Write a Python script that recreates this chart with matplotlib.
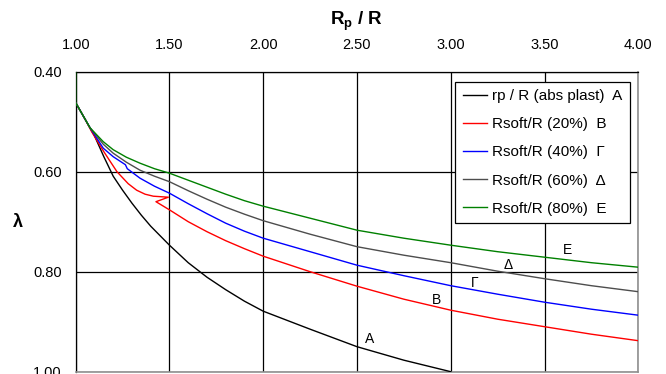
import matplotlib
matplotlib.use('Agg')
import matplotlib.pyplot as plt

plt.rcParams['font.family'] = ['Liberation Sans', 'DejaVu Sans']
plt.rcParams['mathtext.fontset'] = 'custom'
plt.rcParams['mathtext.rm'] = 'Liberation Sans'
plt.rcParams['mathtext.bf'] = 'Liberation Sans:bold'


'''
#   lambda against Rp/R for the different plastic zone definitions
'''
# rp / R, absolute plasticity (A)
xA = [1.00, 1.05, 1.10, 1.15, 1.20, 1.25, 1.30, 1.35, 1.40, 1.50, 1.60, 1.70, 1.80, 1.90, 2.00,
      2.25, 2.50, 2.75, 3.00]
yA = [0.462, 0.495, 0.528, 0.570, 0.609, 0.637, 0.663, 0.687, 0.709, 0.747, 0.782, 0.811, 0.836, 0.859, 0.879,
      0.915, 0.950, 0.977, 1.000]

# Rsoft/R 20% (B), with the fold near 1.45
xB = [1.00, 1.05, 1.085, 1.15, 1.22, 1.28, 1.325, 1.37, 1.414, 1.494, 1.428, 1.503, 1.60, 1.70, 1.80, 1.90, 2.00,
      2.25, 2.50, 2.75, 3.00, 3.25, 3.50, 3.75, 4.00]
yB = [0.462, 0.495, 0.520, 0.560, 0.600, 0.624, 0.637, 0.645, 0.649, 0.651, 0.660, 0.677, 0.700, 0.720, 0.738, 0.754, 0.769,
      0.800, 0.829, 0.855, 0.877, 0.895, 0.910, 0.925, 0.938]

# Rsoft/R 40% (Gamma)
xG = [1.00, 1.05, 1.076, 1.147, 1.20, 1.265, 1.275, 1.343, 1.42, 1.50, 1.60, 1.70, 1.80, 1.90, 2.00,
      2.25, 2.50, 2.75, 3.00, 3.25, 3.50, 3.75, 4.00]
yG = [0.462, 0.495, 0.512, 0.553, 0.570, 0.586, 0.594, 0.613, 0.629, 0.643, 0.664, 0.684, 0.703, 0.719, 0.733,
      0.760, 0.787, 0.808, 0.828, 0.845, 0.861, 0.875, 0.887]

# Rsoft/R 60% (Delta)
xD = [1.00, 1.076, 1.147, 1.20, 1.27, 1.343, 1.42, 1.50, 1.60, 1.70, 1.80, 1.90, 2.00,
      2.25, 2.50, 2.75, 3.00, 3.25, 3.50, 3.75, 4.00]
yD = [0.462, 0.512, 0.545, 0.563, 0.581, 0.597, 0.609, 0.620, 0.638, 0.655, 0.671, 0.685, 0.698,
      0.725, 0.750, 0.767, 0.782, 0.799, 0.814, 0.828, 0.840]

# Rsoft/R 80% (E)
xE = [1.00, 1.00, 1.076, 1.147, 1.20, 1.27, 1.343, 1.42, 1.50, 1.60, 1.70, 1.80, 1.90, 2.00,
      2.25, 2.50, 2.75, 3.00, 3.25, 3.50, 3.75, 4.00]
yE = [0.400, 0.462, 0.512, 0.540, 0.556, 0.571, 0.583, 0.594, 0.603, 0.617, 0.631, 0.645, 0.658, 0.669,
      0.693, 0.717, 0.733, 0.747, 0.760, 0.771, 0.782, 0.791]

xticks = [1.00, 1.50, 2.00, 2.50, 3.00, 3.50, 4.00]
yticks = [0.40, 0.60, 0.80, 1.00]

labels = ['rp / R (abs plast)  A', 'Rsoft/R (20%)  B', 'Rsoft/R (40%)  \u0393',
          'Rsoft/R (60%)  \u0394', 'Rsoft/R (80%)  E']
tags = ['A', 'B', '\u0393', '\u0394', 'E']
tagX = [2.566, 2.925, 3.13, 3.307, 3.62]
tagY = [0.935, 0.857, 0.823, 0.787, 0.756]


def show_lambda():

    fig = plt.figure(figsize=(6.66, 3.74), dpi=100)
    ax = fig.add_axes([75.7/666, 1-371.7/374, (638.3-75.7)/666, (371.7-71.7)/374])

    lw = 1.0
    ax.plot(xA, yA, color='black', linewidth=lw, label=labels[0], zorder=3)
    ax.plot(xB, yB, color='#ff0000', linewidth=lw, label=labels[1], zorder=3)
    ax.plot(xG, yG, color='#0000ff', linewidth=lw, label=labels[2], zorder=3)
    ax.plot(xD, yD, color='#4d4d4d', linewidth=lw, label=labels[3], zorder=3)
    ax.plot(xE, yE, color='#008000', linewidth=lw, label=labels[4], zorder=3)

    for t, x, y in zip(tags, tagX, tagY):
        ax.text(x, y, t, fontsize=10, ha='center', va='center', zorder=4)

    ax.set_xlim(1.0, 4.0)
    ax.set_ylim(1.0, 0.4)
    ax.set_xticks(xticks)
    ax.set_yticks(yticks)
    ax.set_xticklabels(['%.2f' % v for v in xticks])
    ax.set_yticklabels(['%.2f' % v for v in yticks])
    ax.xaxis.tick_top()
    ax.tick_params(axis='x', length=0, pad=14.5, labelsize=10.5)
    ax.tick_params(axis='y', length=0, pad=10, labelsize=10.5)
    ax.grid(True, color='black', linewidth=0.9, zorder=1)
    ax.set_axisbelow(True)

    for s in ['top', 'left']:
        ax.spines[s].set_color('black')
        ax.spines[s].set_linewidth(0.9)
    for s in ['right', 'bottom']:
        ax.spines[s].set_color('#909090')
        ax.spines[s].set_linewidth(1.2)

    fig.text(357/666, 1-21.5/374, r'$\mathbf{R_p}$ / R', fontsize=13.5, fontweight='bold',
             ha='center', va='center')
    fig.text(18/666, 1-222/374, '\u03bb', fontsize=13, fontweight='bold',
             ha='center', va='center')

    leg = ax.legend(loc='upper left', bbox_to_anchor=(455/666, 1-81.7/374),
                    bbox_transform=fig.transFigure, fontsize=11, frameon=True,
                    fancybox=False, framealpha=1, edgecolor='black', borderaxespad=0,
                    handlelength=1.6, handletextpad=0.33, labelspacing=0.92,
                    borderpad=0.5)
    leg.get_frame().set_linewidth(0.9)
    leg.set_zorder(5)

    fig.savefig('out.png', dpi=100)

    return 0


if __name__ == '__main__':

    show_lambda()

# END OF FILE
